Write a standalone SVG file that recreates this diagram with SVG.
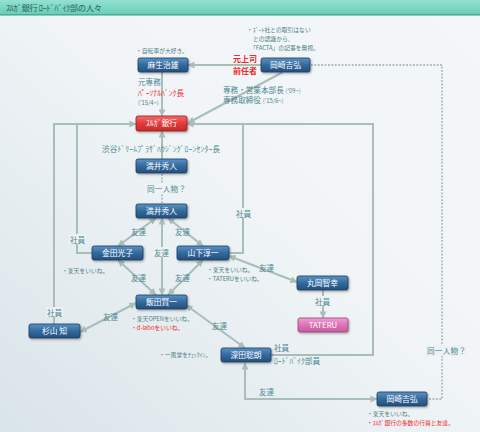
<svg xmlns="http://www.w3.org/2000/svg" width="480" height="432" viewBox="0 0 480 432">
<defs>
<linearGradient id="bg" x1="0" y1="1" x2="1" y2="0">
<stop offset="0" stop-color="#d9e4e9"/>
<stop offset="0.55" stop-color="#f1f5f7"/>
<stop offset="1" stop-color="#f4f7f9"/>
</linearGradient>
<linearGradient id="tb" x1="0" y1="0" x2="0" y2="1">
<stop offset="0" stop-color="#93e2cf"/>
<stop offset="1" stop-color="#66cdb7"/>
</linearGradient>
<linearGradient id="gb" x1="0" y1="0" x2="0" y2="1">
<stop offset="0" stop-color="#5b93c4"/>
<stop offset="0.5" stop-color="#33699d"/>
<stop offset="1" stop-color="#244f7d"/>
</linearGradient>
<linearGradient id="gr" x1="0" y1="0" x2="0" y2="1">
<stop offset="0" stop-color="#f56a6a"/>
<stop offset="0.5" stop-color="#e23a3a"/>
<stop offset="1" stop-color="#c42a2a"/>
</linearGradient>
<linearGradient id="gp" x1="0" y1="0" x2="0" y2="1">
<stop offset="0" stop-color="#eea0d2"/>
<stop offset="0.5" stop-color="#db74b6"/>
<stop offset="1" stop-color="#c85ba0"/>
</linearGradient>
<filter id="sh" x="-20%" y="-30%" width="140%" height="170%">
<feDropShadow dx="1" dy="1.2" stdDeviation="0.8" flood-color="#000" flood-opacity="0.35"/>
</filter>
<marker id="ar" viewBox="0 0 8 8" refX="7.5" refY="4" markerWidth="7" markerHeight="7" markerUnits="userSpaceOnUse" orient="auto-start-reverse">
<path d="M0,0 L8,4 L0,8 z" fill="#a9bdb9"/>
</marker>
<style>
.nd rect{stroke:#1b3b5e;stroke-width:0.8;filter:url(#sh)}
.b rect{fill:url(#gb)}
.r rect{fill:url(#gr);stroke:#8e1e1e}
.p rect{fill:url(#gp);stroke:#9a3f7a}
.nd text{font-family:"Noto Sans CJK JP","Noto Sans",sans-serif;font-size:7.8px;fill:#ffffff;text-anchor:middle}
.e{fill:none;stroke:#a9bdb9;stroke-width:2}
.d{fill:none;stroke:#a9bdb9;stroke-width:1.8;stroke-dasharray:1.8 1.6}
.t{font-family:"Noto Sans CJK JP","Noto Sans",sans-serif;font-size:7.6px;fill:#4f8890}
.s{font-family:"Noto Sans CJK JP","Noto Sans",sans-serif;font-size:5.8px;fill:#4f7f88}
.red{fill:#f22a2a}
.bold{font-weight:bold}
.lb{fill:#edf2f4}
</style>
</defs>
<rect width="480" height="432" fill="url(#bg)"/>
<rect width="480" height="15" fill="url(#tb)"/>
<rect y="14.3" width="480" height="1.2" fill="#3e9e8c"/>
<text x="6" y="11" textLength="96" style="font-family:'Noto Sans CJK JP',sans-serif;font-size:8.4px;fill:#2d615c">ｽﾙｶﾞ銀行 ﾛｰﾄﾞﾊﾞｲｸ部の人々</text>

<g id="connectors">
<path class="e" d="M261,65 H188" marker-end="url(#ar)"/>
<path class="e" d="M283,72 L188,123" marker-end="url(#ar)"/>
<path class="e" d="M162,72 V116" marker-end="url(#ar)"/>
<path class="e" d="M162,159 V131" marker-end="url(#ar)"/>
<path class="d" d="M162,174 V204"/>
<path class="e" d="M54,324 V124 H136" marker-end="url(#ar)"/>
<path class="e" d="M92,253 H77 V124"/>
<path class="e" d="M271,355 H373 V124 H187" marker-end="url(#ar)"/>
<path class="e" d="M229,253 H243 V124"/>
<path class="e" d="M162,295 V218" marker-start="url(#ar)" marker-end="url(#ar)"/>
<path class="e" d="M156,218 L118,246" marker-start="url(#ar)" marker-end="url(#ar)"/>
<path class="e" d="M168,218 L203,246" marker-start="url(#ar)" marker-end="url(#ar)"/>
<path class="e" d="M156,295 L118,260" marker-start="url(#ar)" marker-end="url(#ar)"/>
<path class="e" d="M168,295 L203,260" marker-start="url(#ar)" marker-end="url(#ar)"/>
<path class="e" d="M229,256 L297,282" marker-start="url(#ar)" marker-end="url(#ar)"/>
<path class="e" d="M323,290 V318" marker-end="url(#ar)"/>
<path class="e" d="M136,303 L80,332" marker-start="url(#ar)" marker-end="url(#ar)"/>
<path class="e" d="M186,305 L245,348" marker-start="url(#ar)" marker-end="url(#ar)"/>
<path class="e" d="M245,363 V399 H377" marker-start="url(#ar)" marker-end="url(#ar)"/>
<path class="d" d="M311,65 H442 V399 H428"/>
<rect class="lb" x="69" y="234" width="17" height="10"/>
<rect class="lb" x="46" y="307" width="17" height="10"/>
<rect class="lb" x="235" y="208" width="17" height="10"/>
<rect class="lb" x="315" y="296" width="17" height="10"/>
<rect class="lb" x="153" y="247" width="17" height="10"/>
<rect class="lb" x="146" y="183" width="41" height="11"/>
<rect class="lb" x="426" y="345" width="41" height="11"/>
</g>

<g id="labels">
<text class="t" x="131" y="235">友達</text>
<text class="t" x="175" y="235">友達</text>
<text class="t" x="154" y="256">友達</text>
<text class="t" x="131" y="281">友達</text>
<text class="t" x="175" y="281">友達</text>
<text class="t" x="259" y="271">友達</text>
<text class="t" x="103" y="320">友達</text>
<text class="t" x="212" y="329">友達</text>
<text class="t" x="259" y="395">友達</text>
<text class="t" x="70" y="243">社員</text>
<text class="t" x="47" y="316">社員</text>
<text class="t" x="236" y="217">社員</text>
<text class="t" x="315" y="305">社員</text>
<text class="t" x="274" y="351">社員</text>
<text class="t" x="274" y="364" textLength="46">ﾛｰﾄﾞﾊﾞｲｸ部員</text>
<text class="t" x="147" y="192" textLength="39">同一人物？</text>
<text class="t" x="427" y="354" textLength="39">同一人物？</text>
<text class="t" x="102" y="152" textLength="118">渋谷ﾄﾞﾘｰﾑﾌﾟﾗｻﾞﾊｳｼﾞﾝｸﾞﾛｰﾝｾﾝﾀｰ長</text>
<text class="s" x="136" y="53">・自転車が大好き。</text>
<text class="s" x="247" y="32">・ｽﾞｰﾄ社との取引はない</text>
<text class="s" x="253" y="41">との認識から、</text>
<text class="s" x="250" y="50">「FACTA」の記事を無視。</text>
<text class="t red bold" x="233" y="62" style="font-size:8px">元上司</text>
<text class="t red bold" x="233" y="74" style="font-size:8px">前任者</text>
<text class="t" x="138" y="85">元専務</text>
<text class="t red" x="138" y="96" textLength="46">ﾊﾟｰｿﾅﾙﾊﾞﾝｸ長</text>
<text class="s" x="138" y="105">('15/4~)</text>
<text class="t" x="223" y="93">専務・営業本部長 <tspan style="font-size:5.8px">('09~)</tspan></text>
<text class="t" x="223" y="103">専務取締役 <tspan style="font-size:5.8px">('15/6~)</tspan></text>
<text class="s" x="62" y="273">・楽天をいいね。</text>
<text class="s" x="207" y="272">・楽天をいいね。</text>
<text class="s" x="207" y="281">・TATERUをいいね。</text>
<text class="s" x="131" y="321">・楽天OPENをいいね。</text>
<text class="s red" x="131" y="330">・d-laboをいいね。</text>
<text class="s" x="159" y="357">・一風堂をﾁｪｯｸｲﾝ。</text>
<text class="s" x="367" y="416">・楽天をいいね。</text>
<text class="s red" x="367" y="425">・ｽﾙｶﾞ銀行の多数の行員と友達。</text>
</g>

<g id="n-aso" class="nd b"><rect x="138" y="58" width="50" height="14" rx="2"/><text x="163" y="67.8">麻生治雄</text></g>
<g id="n-okazaki1" class="nd b"><rect x="261" y="58" width="49" height="14" rx="2"/><text x="285.5" y="67.8">岡崎吉弘</text></g>
<g id="n-suruga" class="nd r"><rect x="136" y="116" width="51" height="15" rx="2"/><text x="161.5" y="126.3">ｽﾙｶﾞ銀行</text></g>
<g id="n-mitsui1" class="nd b"><rect x="136" y="159" width="51" height="14" rx="2"/><text x="161.5" y="168.8">満井秀人</text></g>
<g id="n-mitsui2" class="nd b"><rect x="136" y="204" width="51" height="14" rx="2"/><text x="161.5" y="213.8">満井秀人</text></g>
<g id="n-kaneda" class="nd b"><rect x="92" y="246" width="51" height="14" rx="2"/><text x="117.5" y="255.8">金田光子</text></g>
<g id="n-yamashita" class="nd b"><rect x="177" y="246" width="52" height="14" rx="2"/><text x="203" y="255.8">山下淳一</text></g>
<g id="n-iida" class="nd b"><rect x="136" y="295" width="51" height="14" rx="2"/><text x="161.5" y="304.8">飯田賢一</text></g>
<g id="n-maruoka" class="nd b"><rect x="297" y="276" width="51" height="14" rx="2"/><text x="322.5" y="285.8">丸岡智幸</text></g>
<g id="n-tateru" class="nd p"><rect x="298" y="318" width="50" height="14" rx="2"/><text x="323" y="327.8">TATERU</text></g>
<g id="n-sugiyama" class="nd b"><rect x="29" y="324" width="51" height="14" rx="2"/><text x="54.5" y="333.8">杉山 知</text></g>
<g id="n-fukada" class="nd b"><rect x="221" y="348" width="50" height="14" rx="2"/><text x="246" y="357.8">深田聡朗</text></g>
<g id="n-okazaki2" class="nd b"><rect x="377" y="392" width="50" height="14" rx="2"/><text x="402" y="401.8">岡崎吉弘</text></g>
</svg>
